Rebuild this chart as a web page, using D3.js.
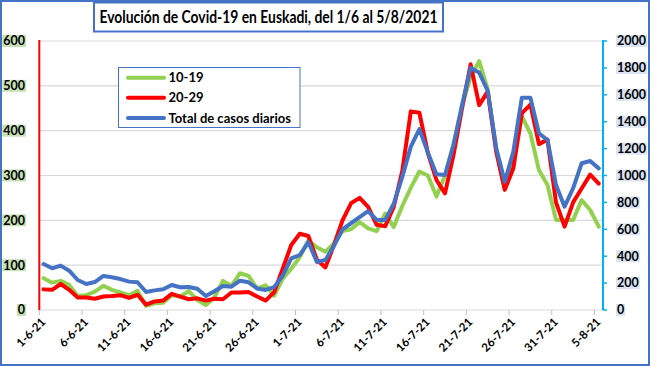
<!DOCTYPE html>
<html><head><meta charset="utf-8">
<script src="https://cdn.jsdelivr.net/npm/d3@7"></script>
<style>body{margin:0;background:#fff} svg{display:block} text{font-family:Lato,"Open Sans",sans-serif}</style>
</head><body><svg id="c" width="650" height="366"></svg>
<script>
const categories = ["1-6-21","2-6-21","3-6-21","4-6-21","5-6-21","6-6-21","7-6-21","8-6-21","9-6-21","10-6-21",
"11-6-21","12-6-21","13-6-21","14-6-21","15-6-21","16-6-21","17-6-21","18-6-21","19-6-21","20-6-21",
"21-6-21","22-6-21","23-6-21","24-6-21","25-6-21","26-6-21","27-6-21","28-6-21","29-6-21","30-6-21",
"1-7-21","2-7-21","3-7-21","4-7-21","5-7-21","6-7-21","7-7-21","8-7-21","9-7-21","10-7-21",
"11-7-21","12-7-21","13-7-21","14-7-21","15-7-21","16-7-21","17-7-21","18-7-21","19-7-21","20-7-21",
"21-7-21","22-7-21","23-7-21","24-7-21","25-7-21","26-7-21","27-7-21","28-7-21","29-7-21","30-7-21",
"31-7-21","1-8-21","2-8-21","3-8-21","4-8-21","5-8-21"];
const tickLabels = ["1-6-21","6-6-21","11-6-21","16-6-21","21-6-21","26-6-21","1-7-21","6-7-21","11-7-21","16-7-21","21-7-21","26-7-21","31-7-21","5-8-21"];
const age10_19 = [71,61,65,56,31,33,41,54,45,39,33,43,9,15,16,33,30,42,22,11,28,65,54,82,76,48,55,32,70,92,
118,155,140,130,148,176,180,196,182,176,215,185,232,273,309,300,253,300,370,455,
520,555,492,358,270,330,432,394,312,279,201,201,201,245,223,186];
const age20_29 = [46,45,58,45,28,28,25,30,31,33,27,34,12,19,21,36,30,24,26,21,25,24,39,39,40,30,21,40,92,145,
170,165,112,95,145,200,238,250,230,190,187,230,310,443,440,350,290,260,346,450,
548,457,487,353,268,316,439,458,370,380,240,186,240,271,302,282];
const totalDaily = [342,310,330,292,223,193,208,253,243,230,211,206,134,146,154,186,169,171,158,104,139,178,173,218,206,160,149,170,255,384,
409,505,357,372,477,600,645,690,735,670,670,790,990,1215,1345,1170,1010,1004,1227,1524,
1800,1765,1630,1202,954,1177,1579,1579,1314,1264,929,768,905,1091,1108,1053];
const leftTicks = [0,100,200,300,400,500,600];
const rightTicks = [0,200,400,600,800,1000,1200,1400,1600,1800,2000];
const seriesNames = ["10-19","20-29","Total de casos diarios"];
const seriesColors = ["#92D050","#FF0000","#4472C4"];
const titleText = "Evolución de Covid-19 en Euskadi, del 1/6 al 5/8/2021";

(function(){
const svg = d3.select("#c");
const W = 650, H = 366;
const pL = 39.3, pR = 603, pT = 41, pB = 310;

svg.append("rect").attr("x",1).attr("y",1).attr("width",W-2).attr("height",H-2)
  .attr("fill","#fff").attr("stroke","#4472C4").attr("stroke-width",2);

const x = d3.scaleBand().domain(categories).range([pL,pR]).padding(0);
const cx = d => x(d) + x.bandwidth()/2;
const yL = d3.scaleLinear().domain([0,600]).range([pB,pT]);
const yR = d3.scaleLinear().domain([0,2000]).range([pB,pT]);

svg.append("g").selectAll("line").data(leftTicks).join("line")
  .attr("x1",pL).attr("x2",pR).attr("y1",d=>yL(d)).attr("y2",d=>yL(d))
  .attr("stroke","#d9d9d9").attr("stroke-width",1.2);

const xg = svg.append("g");
xg.selectAll("line").data(tickLabels).join("line")
  .attr("x1",d=>x(d)).attr("x2",d=>x(d)).attr("y1",pB).attr("y2",pB+5)
  .attr("stroke","#bfbfbf").attr("stroke-width",1);
xg.selectAll("text").data(tickLabels).join("text")
  .attr("transform",d=>`translate(${x(d)+4},${pB+10}) rotate(-45)`)
  .attr("text-anchor","end").attr("dy","0.35em")
  .attr("font-size",11.5).attr("font-weight","bold").attr("fill","#000")
  .text(d=>d);

svg.append("line").attr("x1",pL).attr("x2",pL).attr("y1",pT-1).attr("y2",pB)
  .attr("stroke","#FF0000").attr("stroke-width",2);
const lg = svg.append("g");
leftTicks.forEach(t=>{
  const tx = lg.append("text").attr("x",25).attr("y",yL(t)).attr("dy","0.35em")
    .attr("text-anchor","end").attr("font-size",12.5).attr("font-weight","bold").text(t);
  const b = tx.node().getBBox();
  lg.insert("rect","text").attr("x",b.x-1).attr("y",yL(t)-6).attr("width",b.width+2).attr("height",12)
    .attr("fill","#C5E0B4");
});

svg.append("line").attr("x1",pR).attr("x2",pR).attr("y1",pT-1).attr("y2",pB)
  .attr("stroke","#00B0F0").attr("stroke-width",2);
svg.append("g").selectAll("line").data(rightTicks).join("line")
  .attr("x1",pR).attr("x2",pR+4).attr("y1",d=>yR(d)).attr("y2",d=>yR(d))
  .attr("stroke","#00B0F0").attr("stroke-width",1.5);
const rg = svg.append("g");
rightTicks.forEach(t=>{
  const tx = rg.append("text").attr("x",617).attr("y",yR(t)).attr("dy","0.35em")
    .attr("text-anchor","start").attr("font-size",12.5).attr("font-weight","bold").text(t);
  const b = tx.node().getBBox();
  rg.insert("rect","text").attr("x",b.x-1).attr("y",yR(t)-6).attr("width",b.width+2).attr("height",12)
    .attr("fill","#DAE3F3");
});

const series = [
  {vals:age10_19, y:yL},
  {vals:age20_29, y:yL},
  {vals:totalDaily, y:yR}
];
series.forEach((s,k)=>{
  const line = d3.line().x((d,i)=>cx(categories[i])).y(d=>s.y(d));
  svg.append("path").datum(s.vals).attr("d",line).attr("fill","none")
    .attr("stroke",seriesColors[k]).attr("stroke-width",4).attr("stroke-linejoin","round").attr("stroke-linecap","round");
});

const leg = svg.append("g");
leg.append("rect").attr("x",118.5).attr("y",67.5).attr("width",181.5).attr("height",60)
  .attr("fill","#fff").attr("stroke","#4472C4").attr("stroke-width",1);
seriesNames.forEach((n,k)=>{
  const yy = [77.7,97.7,118][k];
  leg.append("line").attr("x1",128).attr("x2",164).attr("y1",yy).attr("y2",yy)
    .attr("stroke",seriesColors[k]).attr("stroke-width",4).attr("stroke-linecap","round");
  leg.append("text").attr("x",168.5).attr("y",yy).attr("dy","0.35em")
    .attr("font-size",13).attr("font-weight","bold").text(n);
});

svg.append("rect").attr("x",94).attr("y",2.5).attr("width",349).attr("height",29)
  .attr("fill","#fff").attr("stroke","#4472C4").attr("stroke-width",2);
svg.append("text").attr("x",268.5).attr("y",17).attr("dy","0.35em").attr("text-anchor","middle")
  .attr("font-size",16.5).attr("font-weight","bold").attr("textLength",338).attr("lengthAdjust","spacingAndGlyphs")
  .text(titleText);
})();
</script></body></html>
